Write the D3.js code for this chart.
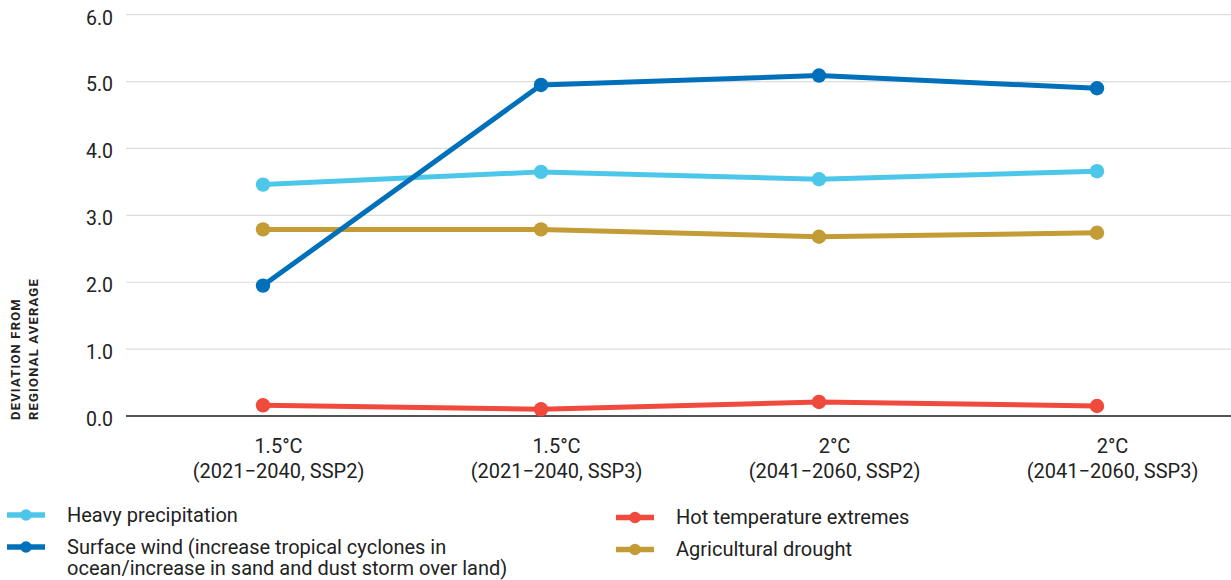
<!DOCTYPE html>
<html>
<head>
<meta charset="utf-8">
<script src="https://cdn.jsdelivr.net/npm/d3@7"></script>
<style>
  html, body { margin: 0; padding: 0; background: #fff; }
  svg { display: block; font-family: Roboto, "Noto Sans", sans-serif; }
</style>
</head>
<body>
<svg id="chart" width="1231" height="580"></svg>
<script>
// Scenario categories (warming level + period/pathway)
const categories = ["s1", "s2", "s3", "s4"];
const warmingLabels = ["1.5°C", "1.5°C", "2°C", "2°C"];
const periodLabels = ["(2021−2040, SSP2)", "(2021−2040, SSP3)", "(2041−2060, SSP2)", "(2041−2060, SSP3)"];

// Deviation from regional average per hazard
const heavyPrecipitation = [3.46, 3.65, 3.54, 3.66];
const surfaceWind = [1.95, 4.95, 5.09, 4.90];
const hotExtremes = [0.16, 0.10, 0.21, 0.15];
const agriculturalDrought = [2.79, 2.79, 2.68, 2.74];

const yTicks = [0, 1, 2, 3, 4, 5, 6];

const seriesNames = [
  "Heavy precipitation",
  "Surface wind (increase tropical cyclones in|ocean/increase in sand and dust storm over land)",
  "Hot temperature extremes",
  "Agricultural drought"
];
const seriesColors = ["#4cc7ea", "#0070bb", "#ef4a3c", "#c39c35"];
const seriesValues = [heavyPrecipitation, surfaceWind, hotExtremes, agriculturalDrought];

const svg = d3.select("#chart");
const W = 1231;
const plotLeft = 126, plotRight = W;
const textColor = "#222";

const x = d3.scalePoint().domain(categories).range([263, 1097]);
const y = d3.scaleLinear().domain([0, 6]).range([416, 14.7]);

// Horizontal gridlines
svg.append("g")
  .selectAll("line")
  .data(yTicks.filter(t => t !== 0))
  .join("line")
  .attr("x1", plotLeft).attr("x2", plotRight)
  .attr("y1", d => y(d)).attr("y2", d => y(d))
  .attr("stroke", "#dcdcdc").attr("stroke-width", 1.2);

// Y axis labels
const yAxis = d3.axisLeft(y).tickValues(yTicks).tickFormat(d3.format(".1f")).tickSize(0).tickPadding(0);
const yG = svg.append("g").attr("transform", `translate(113,0)`).call(yAxis);
yG.select(".domain").remove();
yG.selectAll("text")
  .attr("x", 0)
  .attr("dy", "0.48em")
  .attr("fill", textColor)
  .style("font-size", "19.5px")
  .style("font-family", "Roboto, sans-serif");

// Y axis title
const yTitle = svg.append("text")
  .attr("transform", "translate(20,420) rotate(-90)")
  .attr("fill", textColor)
  .style("font-size", "13px")
  .style("font-weight", "700")
  .style("letter-spacing", "1.2px");
yTitle.append("tspan").attr("x", 0).attr("y", 0).text("DEVIATION FROM");
yTitle.append("tspan").attr("x", 0).attr("y", 18).text("REGIONAL AVERAGE");

// Baseline
svg.append("line")
  .attr("x1", plotLeft).attr("x2", plotRight)
  .attr("y1", y(0)).attr("y2", y(0))
  .attr("stroke", "#1a1a1a").attr("stroke-width", 1.3);

// X axis labels (two lines per category)
const xAxis = d3.axisBottom(x).tickSize(0).tickFormat("");
const xG = svg.append("g").attr("transform", `translate(0,${y(0)})`).call(xAxis);
xG.select(".domain").remove();
xG.selectAll(".tick").each(function (d, i) {
  const t = d3.select(this).append("text")
    .attr("text-anchor", "middle")
    .attr("fill", textColor)
    .style("font-size", "20px")
    .style("font-family", "Roboto, sans-serif");
  t.append("tspan").attr("x", 15).attr("y", 37.3).text(warmingLabels[i]);
  t.append("tspan").attr("x", 15).attr("y", 61.7).text(periodLabels[i]);
});

// Lines and markers
const line = d3.line().x((d, i) => x(categories[i])).y(d => y(d));
const drawOrder = [3, 2, 0, 1];
drawOrder.forEach(s => {
  const g = svg.append("g");
  g.append("path")
    .datum(seriesValues[s])
    .attr("d", line)
    .attr("fill", "none")
    .attr("stroke", seriesColors[s])
    .attr("stroke-width", 5)
    .attr("stroke-linejoin", "round");
  g.selectAll("circle")
    .data(seriesValues[s])
    .join("circle")
    .attr("cx", (d, i) => x(categories[i]))
    .attr("cy", d => y(d))
    .attr("r", 7.2)
    .attr("fill", seriesColors[s]);
});

// Legend
const legendItems = [
  { s: 0, x: 7, y: 515 },
  { s: 1, x: 7, y: 547 },
  { s: 2, x: 616, y: 517.5 },
  { s: 3, x: 616, y: 549.5 }
];
const lg = svg.append("g");
legendItems.forEach(it => {
  const g = lg.append("g").attr("transform", `translate(${it.x},${it.y})`);
  g.append("line").attr("x1", 0).attr("x2", 38).attr("y1", 0).attr("y2", 0)
    .attr("stroke", seriesColors[it.s]).attr("stroke-width", 5.5);
  g.append("circle").attr("cx", 19).attr("cy", 0).attr("r", 5.8).attr("fill", seriesColors[it.s]);
  const lines = seriesNames[it.s].split("|");
  const t = g.append("text")
    .attr("fill", textColor)
    .style("font-size", "20px")
    .style("font-family", "Roboto, sans-serif");
  lines.forEach((ln, k) => {
    t.append("tspan").attr("x", 60).attr("y", 6.5 + k * 21.5).text(ln);
  });
});
</script>
</body>
</html>
